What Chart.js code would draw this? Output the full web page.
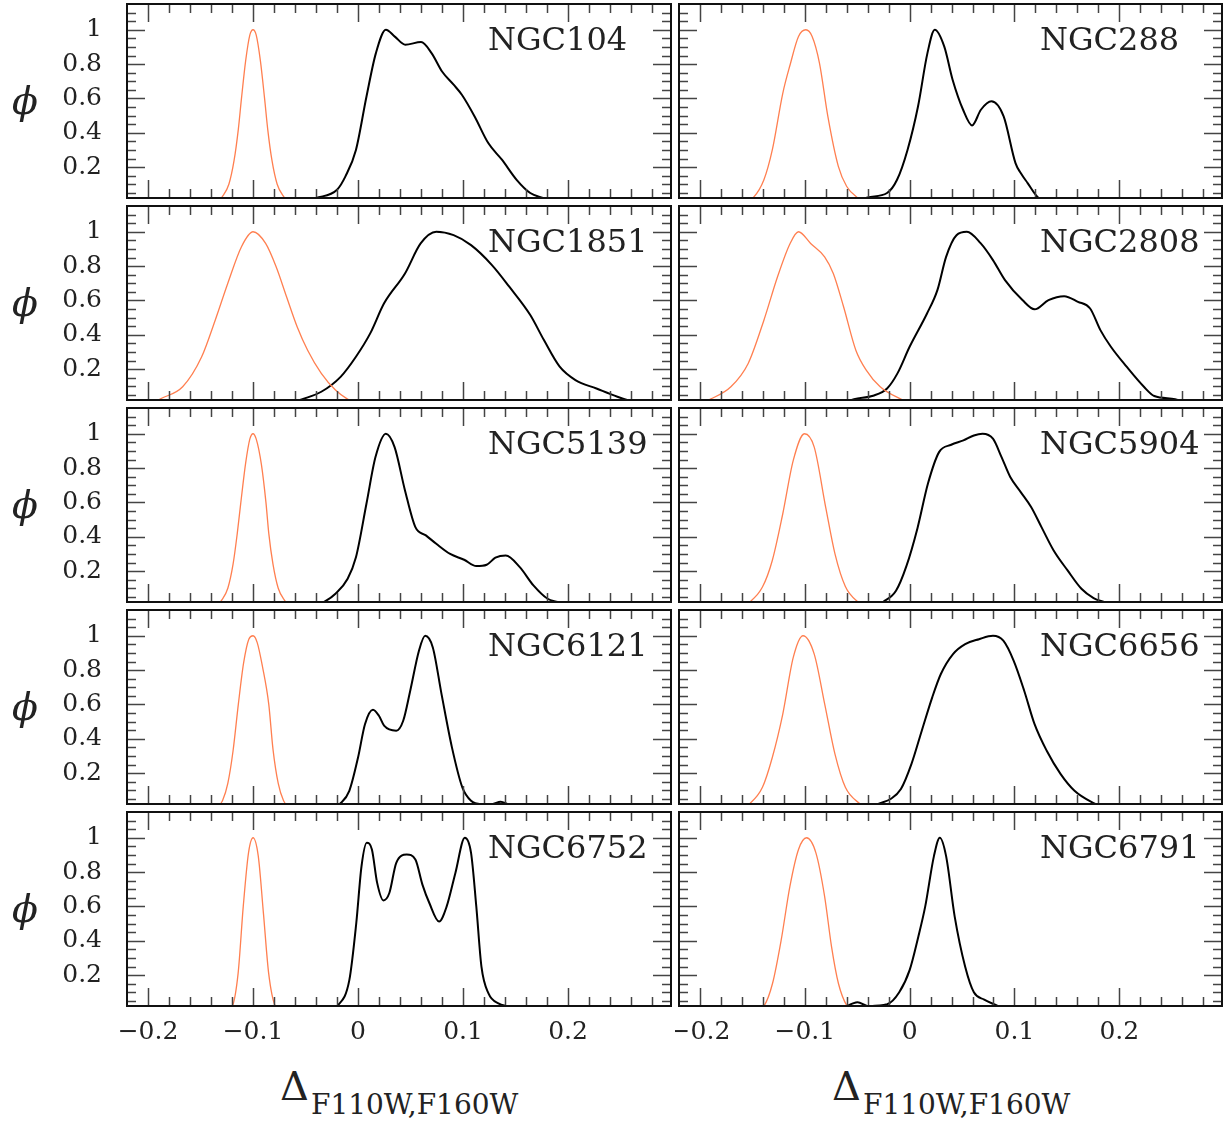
<!DOCTYPE html>
<html>
<head>
<meta charset="utf-8">
<script src="https://cdn.jsdelivr.net/npm/chart.js@4.4.1/dist/chart.umd.min.js"></script>
<style>
  body { margin: 0; background: #fff; }
  #wrap { position: relative; width: 1232px; height: 1123px; }
  #wrap canvas { position: absolute; }
  .lab { position: absolute; font-family: 'DejaVu Serif', serif; color: #222; white-space: nowrap; }
  .phi { font-style: italic; font-size: 38px; line-height: 40px; height: 40px; }
  .delta { font-size: 40px; line-height: 40px; }
  .sub { font-size: 28px; line-height: 28px; }
</style>
</head>
<body>
<div id="wrap"></div>
<script>
// axis ticks
const xMajor = [-0.2, -0.1, 0, 0.1, 0.2];
const yMajor = [0.2, 0.4, 0.6, 0.8, 1];
const clusters = ['NGC104', 'NGC288', 'NGC1851', 'NGC2808', 'NGC5139',
                  'NGC5904', 'NGC6121', 'NGC6656', 'NGC6752', 'NGC6791'];

// [delta, phi]; Ref = red curve, Obs = black curve
const ngc104Ref = [[-0.134,0],[-0.129,0.03],[-0.123,0.1],[-0.118,0.24],[-0.114,0.42],[-0.111,0.6],[-0.107,0.82],[-0.103,0.97],[-0.1,1],[-0.097,0.97],[-0.093,0.82],[-0.089,0.6],[-0.086,0.42],[-0.082,0.24],[-0.077,0.1],[-0.071,0.03],[-0.066,0]];
const ngc104Obs = [[-0.05,0],[-0.04,0.02],[-0.02,0.068],[-0.012,0.146],[-0.002,0.3],[0.008,0.61],[0.017,0.864],[0.0265,1],[0.035,0.96],[0.045,0.913],[0.06,0.928],[0.07,0.864],[0.08,0.757],[0.091,0.68],[0.099,0.62],[0.111,0.495],[0.124,0.34],[0.137,0.243],[0.151,0.126],[0.164,0.049],[0.176,0.02],[0.185,0]];

const ngc288Ref = [[-0.158,0],[-0.149,0.023],[-0.139,0.126],[-0.131,0.3],[-0.121,0.63],[-0.114,0.796],[-0.106,0.961],[-0.099,1],[-0.093,0.961],[-0.086,0.806],[-0.078,0.495],[-0.068,0.204],[-0.06,0.087],[-0.05,0.023],[-0.042,0]];
const ngc288Obs = [[-0.05,0],[-0.04,0.023],[-0.0215,0.049],[-0.012,0.126],[-0.002,0.3],[0.008,0.553],[0.017,0.864],[0.024,1],[0.033,0.903],[0.041,0.709],[0.051,0.534],[0.0596,0.443],[0.068,0.534],[0.078,0.583],[0.0897,0.495],[0.101,0.223],[0.106,0.165],[0.1126,0.107],[0.1225,0.023],[0.13,0]];

const ngc1851Ref = [[-0.197,0],[-0.187,0.03],[-0.167,0.097],[-0.149,0.27],[-0.136,0.485],[-0.124,0.7],[-0.111,0.913],[-0.1,1],[-0.088,0.932],[-0.078,0.796],[-0.068,0.62],[-0.058,0.447],[-0.048,0.31],[-0.035,0.175],[-0.0215,0.078],[-0.01,0.025],[0,0]];
const ngc1851Obs = [[-0.065,0],[-0.053,0.025],[-0.035,0.068],[-0.0166,0.155],[-0.002,0.272],[0.0116,0.408],[0.0248,0.583],[0.0447,0.757],[0.0596,0.932],[0.0745,1],[0.091,0.98],[0.1076,0.922],[0.1275,0.806],[0.144,0.68],[0.164,0.515],[0.177,0.369],[0.192,0.214],[0.207,0.136],[0.227,0.087],[0.247,0.039],[0.257,0.019],[0.27,0]];

const ngc2808Ref = [[-0.2,0],[-0.19,0.025],[-0.1705,0.097],[-0.154,0.233],[-0.139,0.485],[-0.126,0.738],[-0.114,0.932],[-0.106,1],[-0.0944,0.932],[-0.0811,0.854],[-0.0728,0.757],[-0.063,0.563],[-0.0513,0.31],[-0.0414,0.194],[-0.0281,0.097],[-0.0083,0.025],[0.002,0]];
const ngc2808Obs = [[-0.065,0],[-0.053,0.025],[-0.0348,0.045],[-0.0215,0.087],[-0.0116,0.175],[0,0.33],[0.0166,0.524],[0.0265,0.66],[0.0348,0.854],[0.0447,0.98],[0.0546,1],[0.0679,0.932],[0.0795,0.835],[0.091,0.718],[0.1076,0.602],[0.1192,0.548],[0.1325,0.602],[0.1474,0.625],[0.1606,0.592],[0.1722,0.553],[0.182,0.427],[0.192,0.33],[0.207,0.214],[0.2235,0.097],[0.2334,0.043],[0.2533,0.025],[0.265,0]];

const ngc5139Ref = [[-0.134,0],[-0.13,0.03],[-0.124,0.1],[-0.119,0.24],[-0.115,0.42],[-0.1116,0.6],[-0.107,0.83],[-0.103,0.97],[-0.1,1],[-0.097,0.97],[-0.092,0.82],[-0.0877,0.6],[-0.085,0.42],[-0.081,0.24],[-0.076,0.1],[-0.07,0.03],[-0.065,0]];
const ngc5139Obs = [[-0.04,0],[-0.0315,0.023],[-0.0215,0.068],[-0.0099,0.155],[-0.002,0.28],[0.008,0.592],[0.0166,0.864],[0.0265,1],[0.0348,0.922],[0.0447,0.67],[0.0546,0.456],[0.0646,0.408],[0.0745,0.359],[0.0877,0.3],[0.101,0.266],[0.1126,0.229],[0.1225,0.237],[0.1308,0.278],[0.1407,0.291],[0.154,0.223],[0.167,0.117],[0.1805,0.039],[0.19,0.02],[0.2,0]];

const ngc5904Ref = [[-0.16,0],[-0.152,0.023],[-0.1404,0.107],[-0.131,0.262],[-0.121,0.534],[-0.111,0.845],[-0.1003,1],[-0.091,0.922],[-0.08,0.57],[-0.0712,0.3],[-0.0613,0.11],[-0.0497,0.023],[-0.042,0]];
const ngc5904Obs = [[-0.035,0],[-0.0248,0.023],[-0.013,0.085],[-0.003,0.23],[0.0075,0.45],[0.0175,0.71],[0.0281,0.893],[0.0397,0.936],[0.0513,0.961],[0.0613,0.99],[0.0695,1],[0.0795,0.971],[0.0877,0.864],[0.096,0.748],[0.106,0.66],[0.1159,0.573],[0.1258,0.456],[0.1374,0.32],[0.1507,0.204],[0.1639,0.097],[0.1755,0.043],[0.1854,0.02],[0.195,0]];

const ngc6121Ref = [[-0.134,0],[-0.129,0.04],[-0.124,0.14],[-0.119,0.33],[-0.114,0.6],[-0.109,0.84],[-0.104,0.98],[-0.1,1],[-0.096,0.96],[-0.091,0.82],[-0.085,0.6],[-0.081,0.34],[-0.076,0.14],[-0.071,0.04],[-0.066,0]];
const ngc6121Obs = [[-0.025,0],[-0.0166,0.025],[-0.0083,0.097],[0,0.291],[0.0066,0.485],[0.0142,0.569],[0.0199,0.534],[0.0248,0.476],[0.0364,0.447],[0.043,0.505],[0.0497,0.68],[0.058,0.913],[0.0639,1],[0.0712,0.932],[0.0795,0.66],[0.0894,0.35],[0.0993,0.117],[0.1076,0.039],[0.1175,0.019],[0.1275,0.019],[0.1358,0.033],[0.1424,0.019],[0.15,0]];

const ngc6656Ref = [[-0.16,0],[-0.152,0.025],[-0.1404,0.117],[-0.131,0.291],[-0.121,0.544],[-0.111,0.874],[-0.1017,1],[-0.091,0.893],[-0.081,0.602],[-0.0712,0.31],[-0.0613,0.117],[-0.048,0.025],[-0.04,0]];
const ngc6656Obs = [[-0.038,0],[-0.0281,0.025],[-0.0182,0.049],[-0.0083,0.107],[0.0017,0.252],[0.0116,0.447],[0.0215,0.64],[0.0298,0.777],[0.0414,0.893],[0.053,0.951],[0.0662,0.98],[0.0795,1],[0.0894,0.971],[0.0993,0.854],[0.1093,0.68],[0.1192,0.485],[0.1308,0.33],[0.1441,0.194],[0.1573,0.097],[0.1755,0.025],[0.185,0]];

const ngc6752Ref = [[-0.124,0],[-0.12,0.015],[-0.1142,0.21],[-0.1093,0.6],[-0.1043,0.912],[-0.1,1],[-0.095,0.893],[-0.0901,0.561],[-0.0851,0.21],[-0.0785,0.015],[-0.075,0]];
const ngc6752Obs = [[-0.025,0],[-0.0199,0.019],[-0.0083,0.171],[-0.0017,0.502],[0.0033,0.834],[0.0083,0.971],[0.0132,0.932],[0.0182,0.737],[0.0242,0.635],[0.0298,0.678],[0.0364,0.854],[0.0464,0.902],[0.0546,0.873],[0.0613,0.727],[0.0679,0.62],[0.0772,0.512],[0.0844,0.6],[0.0927,0.795],[0.1017,1],[0.1076,0.912],[0.1126,0.6],[0.1175,0.249],[0.1242,0.093],[0.1341,0.034],[0.1424,0.019],[0.15,0]];

const ngc6791Ref = [[-0.145,0],[-0.139,0.019],[-0.1308,0.151],[-0.1225,0.405],[-0.1142,0.717],[-0.106,0.932],[-0.0983,1],[-0.0894,0.912],[-0.0811,0.659],[-0.0745,0.366],[-0.0679,0.151],[-0.0596,0.019],[-0.055,0]];
const ngc6791Obs = [[-0.064,0],[-0.0596,0.019],[-0.0497,0.042],[-0.0397,0.019],[-0.0215,0.03],[-0.0099,0.1],[0,0.229],[0.0083,0.424],[0.0149,0.6],[0.0232,0.893],[0.0288,1],[0.0348,0.893],[0.043,0.541],[0.053,0.249],[0.0613,0.1],[0.0712,0.057],[0.0844,0.019],[0.09,0]];

const refCurves = [ngc104Ref, ngc288Ref, ngc1851Ref, ngc2808Ref, ngc5139Ref, ngc5904Ref, ngc6121Ref, ngc6656Ref, ngc6752Ref, ngc6791Ref];
const obsCurves = [ngc104Obs, ngc288Obs, ngc1851Obs, ngc2808Obs, ngc5139Obs, ngc5904Obs, ngc6121Obs, ngc6656Obs, ngc6752Obs, ngc6791Obs];

const tickFont = { family: 'DejaVu Serif', size: 25 };
const fmt = v => (v < 0 ? '\u2212' : '') + Math.abs(v);

// scales must not push the plot area in: labels sit well inside the frame anyway
const noPad = s => { s.paddingTop = 0; s.paddingBottom = 0; s.paddingLeft = 0; s.paddingRight = 0; };

// box around each panel with inward major/minor ticks on all four sides, plus the cluster name
const frameTicks = {
  id: 'frameTicks',
  afterDatasetsDraw(chart, args, opts) {
    const { ctx, chartArea: a, scales: { x, y } } = chart;
    ctx.save();
    ctx.strokeStyle = '#444';
    ctx.lineWidth = 1.5;
    ctx.beginPath();
    for (let k = -11; k <= 15; k++) {
      const v = k * 0.02;
      if (v <= x.min + 1e-6 || v >= x.max - 1e-6) continue;
      const px = Math.round(x.getPixelForValue(v)) + 0.5;
      const len = k % 5 === 0 ? 18 : 9;
      ctx.moveTo(px, a.top); ctx.lineTo(px, a.top + len);
      ctx.moveTo(px, a.bottom); ctx.lineTo(px, a.bottom - len);
    }
    for (let k = 1; k <= 23; k++) {
      const v = k * 0.05;
      if (v <= y.min + 1e-6 || v >= y.max - 1e-6) continue;
      const py = Math.round(y.getPixelForValue(v)) + 0.5;
      const len = k % 4 === 0 ? 18 : 9;
      ctx.moveTo(a.left, py); ctx.lineTo(a.left + len, py);
      ctx.moveTo(a.right, py); ctx.lineTo(a.right - len, py);
    }
    ctx.stroke();
    ctx.strokeStyle = '#111';
    ctx.lineWidth = 2;
    ctx.strokeRect(a.left, a.top, a.right - a.left, a.bottom - a.top);
    ctx.fillStyle = '#222';
    ctx.font = '32px "DejaVu Serif"';
    ctx.textBaseline = 'alphabetic';
    ctx.fillText(opts.label, a.left + 361, a.top + 46);
    ctx.restore();
  }
};

const wrap = document.getElementById('wrap');

function makePanel(i) {
  const row = Math.floor(i / 2), col = i % 2;
  const last = row === 4;
  const top = 4 + row * 202;
  const canvas = document.createElement('canvas');
  const w = col === 0 ? 675 : 557;
  const h = last ? 248 : 202;
  canvas.width = w;
  canvas.height = h;
  canvas.style.left = (col === 0 ? 0 : 675) + 'px';
  canvas.style.top = (top - 4) + 'px';
  canvas.style.width = w + 'px';
  canvas.style.height = h + 'px';
  wrap.appendChild(canvas);

  new Chart(canvas.getContext('2d'), {
    type: 'line',
    data: {
      datasets: [{
        data: refCurves[i].map(p => ({ x: p[0], y: p[1] })),
        borderColor: '#ff7f50',
        borderWidth: 1.3,
        pointRadius: 0,
        cubicInterpolationMode: 'monotone',
        clip: 0
      }, {
        data: obsCurves[i].map(p => ({ x: p[0], y: p[1] })),
        borderColor: '#000',
        borderWidth: 2,
        pointRadius: 0,
        cubicInterpolationMode: 'monotone',
        clip: 0
      }]
    },
    options: {
      responsive: false,
      animation: false,
      devicePixelRatio: 1,
      events: [],
      layout: {
        autoPadding: false,
        padding: { left: col === 0 ? 0 : 4, right: col === 0 ? 4 : 10, top: 4, bottom: last ? 0 : 4 }
      },
      plugins: {
        legend: { display: false },
        tooltip: { enabled: false },
        frameTicks: { label: clusters[i] }
      },
      scales: {
        x: {
          type: 'linear',
          min: -0.22,
          max: 0.298,
          display: last,
          grid: { display: false },
          border: { display: false },
          afterBuildTicks: s => { s.ticks = xMajor.map(v => ({ value: v })); },
          afterFit: s => { s.height = last ? 50 : 0; noPad(s); },
          ticks: { font: tickFont, color: '#222', padding: 3, maxRotation: 0, autoSkip: false, callback: fmt }
        },
        y: {
          min: 0.02,
          max: 1.15,
          display: col === 0,
          grid: { display: false },
          border: { display: false },
          afterBuildTicks: s => { s.ticks = yMajor.map(v => ({ value: v })); },
          afterFit: s => { s.width = col === 0 ? 127 : 0; noPad(s); },
          ticks: { font: tickFont, color: '#222', padding: 17, autoSkip: false, callback: fmt }
        }
      }
    },
    plugins: [frameTicks]
  });
}

clusters.forEach((c, i) => makePanel(i));

// phi labels on the left of each row
for (let r = 0; r < 5; r++) {
  const d = document.createElement('div');
  d.className = 'lab phi';
  d.textContent = '\u03d5';
  d.style.left = '12px';
  d.style.top = (4 + r * 202 + 97 - 20) + 'px';
  wrap.appendChild(d);
}

// x titles under both columns
[280, 832].forEach(x0 => {
  const d = document.createElement('div');
  d.className = 'lab delta';
  d.textContent = '\u0394';
  d.style.left = x0 + 'px';
  d.style.top = '1066px';
  wrap.appendChild(d);
  const s = document.createElement('div');
  s.className = 'lab sub';
  s.textContent = 'F110W,F160W';
  s.style.left = (x0 + 31) + 'px';
  s.style.top = '1091px';
  wrap.appendChild(s);
});
</script>
</body>
</html>
